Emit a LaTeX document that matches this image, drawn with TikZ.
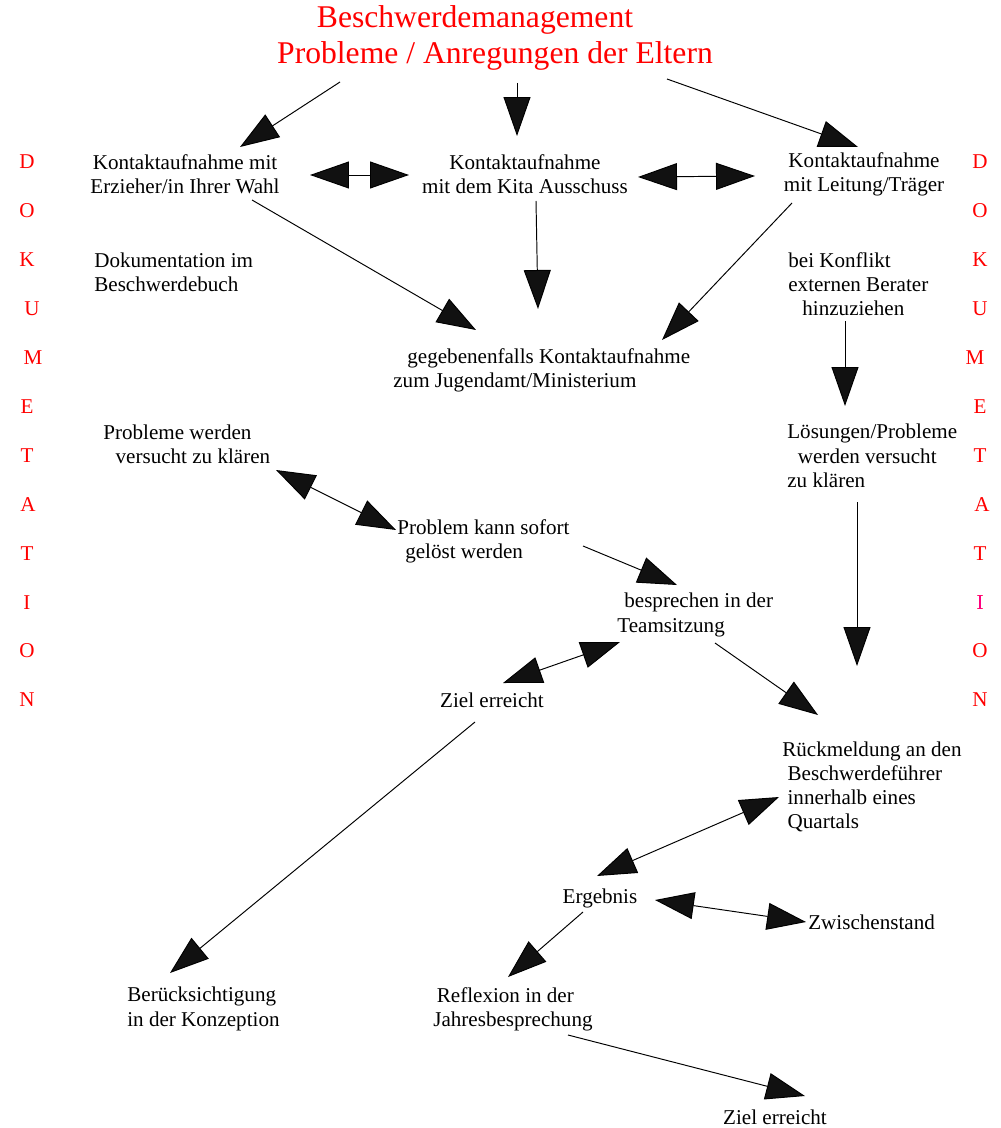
\documentclass[tikz,border=0pt]{standalone}
\usepackage{fontspec}
\setmainfont{Liberation Serif}
\usepackage{xcolor}
\usetikzlibrary{arrows.meta,calc}
\definecolor{dokured}{RGB}{255,0,0}
\definecolor{dokupink}{RGB}{255,0,128}
\definecolor{headgray}{RGB}{17,17,17}
\tikzset{
  txt/.style={inner sep=0pt,font=\fontsize{12}{13.8}\selectfont},
  ttl/.style={inner sep=0pt,text=dokured,font=\fontsize{18}{20}\selectfont},
  doku/.style={inner sep=0pt,text=dokured,font=\fontsize{12}{13.8}\selectfont},
  arr/.style={-{Triangle[length=0.78cm,width=0.54cm,fill=headgray]},line width=0.55pt},
  darr/.style={{Triangle[length=0.78cm,width=0.54cm,fill=headgray]}-{Triangle[length=0.78cm,width=0.54cm,fill=headgray]},line width=0.55pt}
}
\begin{document}
\begin{tikzpicture}[x=0.02cm,y=-0.02cm]
    \useasboundingbox (0,0) rectangle (1000,1128);
    % Ueberschrift
    \node[ttl] (title1) at (475,20) {Beschwerdemanagement};
    \node[ttl] (title2) at (495,56) {Probleme / Anregungen der Eltern};
    % DOKUMENTATION links und rechts
    \foreach \ch/\xl/\xr [count=\i from 0] in {D/27/980,O/27/980,K/27/980,U/32/980,M/33/975,E/27/980,T/27/980,A/28/982,T/27/980,I/27/980,O/27/980,N/27/980}
    {
      \node[doku] (dl\i) at (\xl,162+48.9*\i) {\ch};
      \node[doku] (dr\i) at (\xr,162+48.9*\i) {\ch};
    }
    \node[doku,text=dokupink] at (dr9) {I};
    % Kontaktaufnahme
    \node[txt,align=center] (k1) at (185,174) {Kontaktaufnahme mit\\Erzieher/in Ihrer Wahl};
    \node[txt,align=center] (k2) at (525,174) {Kontaktaufnahme\\mit dem Kita Ausschuss};
    \node[txt,align=center] (k3) at (864,174) {Kontaktaufnahme\\mit Leitung/Träger};
    \node[txt,align=left,anchor=west] (dokbuch) at (94,272) {Dokumentation im\\Beschwerdebuch};
    \node[txt,align=left,anchor=west] (konflikt) at (788,284) {bei Konflikt\\externen Berater\\\hspace*{8pt}hinzuziehen};
    \node[txt,align=left,anchor=west] (jugend) at (393,370) {\hspace*{8pt}gegebenenfalls Kontaktaufnahme\\zum Jugendamt/Ministerium};
    \node[txt,align=left,anchor=west] (probleme) at (103,444) {Probleme werden\\\hspace*{7pt}versucht zu klären};
    \node[txt,align=left,anchor=west] (loesung) at (787,456) {Lösungen/Probleme\\\hspace*{6pt}werden versucht\\zu klären};
    \node[txt,align=left,anchor=west] (sofort) at (397,541) {Problem kann sofort\\\hspace*{4.5pt}gelöst werden};
    \node[txt,align=left,anchor=west] (team) at (617,615) {\hspace*{4pt}besprechen in der\\Teamsitzung};
    \node[txt] (ziel1) at (492,700) {Ziel erreicht};
    \node[txt,align=left,anchor=west] (rueck) at (782,787) {Rückmeldung an den\\\hspace*{3pt}Beschwerdeführer\\\hspace*{3pt}innerhalb eines\\\hspace*{3pt}Quartals};
    \node[txt] (ergebnis) at (600,898) {Ergebnis};
    \node[txt,anchor=west] (zwischen) at (808,922) {Zwischenstand};
    \node[txt,align=left,anchor=west] (beruecks) at (127,1009) {Berücksichtigung\\in der Konzeption};
    \node[txt,align=left,anchor=west] (reflex) at (433,1009) {\hspace*{2pt}Reflexion in der\\Jahresbesprechung};
    \node[txt] (ziel2) at (775,1117) {Ziel erreicht};
    % Pfeile
    \draw[arr] ($(title2)+(-155,26)$) -- ($(k1)+(55,-27)$);
    \draw[arr] ($(title2)+(22,27)$) -- ($(k2)+(-8,-38)$);
    \draw[arr] ($(title2)+(172,23)$) -- ($(k3)+(-6,-27)$);
    \draw[darr] ($(k1)+(125,1)$) -- ($(k2)+(-116,1)$);
    \draw[darr] ($(k2)+(113,3)$) -- ($(k3)+(-109,2)$);
    \draw[arr] ($(k1)+(67,26)$) -- ($(jugend.west)+(83,-40)$);
    \draw[arr] ($(k2)+(11,27)$) -- ($(jugend.west)+(145,-61)$);
    \draw[arr] ($(k3)+(-72,29)$) -- ($(jugend.west)+(269,-30)$);
    \draw[arr] ($(konflikt.west)+(57,37)$) -- ($(loesung.west)+(58,-50)$);
    \draw[darr] ($(probleme.west)+(173,26)$) -- ($(sofort.west)+(-1,-11)$);
    \draw[arr] ($(sofort.west)+(186,5)$) -- ($(team.west)+(60,-30)$);
    \draw[arr] ($(loesung.west)+(70,46)$) -- ($(rueck.west)+(75,-121)$);
    \draw[darr] ($(team.west)+(3,27)$) -- ($(ziel1)+(11,-17)$);
    \draw[arr] ($(team.west)+(98,28)$) -- ($(rueck.west)+(36,-72)$);
    \draw[arr] ($(ziel1)+(-17,22)$) -- ($(beruecks.west)+(43,-36)$);
    \draw[darr] ($(rueck.west)+(-3,10)$) -- ($(ergebnis)+(-3,-22)$);
    \draw[darr] ($(ergebnis)+(55,2)$) -- ($(zwischen.west)+(-2,0)$);
    \draw[arr] ($(ergebnis)+(-17,14)$) -- ($(reflex.west)+(75,-32)$);
    \draw[arr] ($(reflex.west)+(135,26)$) -- ($(ziel2)+(30,-21)$);
\end{tikzpicture}
\end{document}
